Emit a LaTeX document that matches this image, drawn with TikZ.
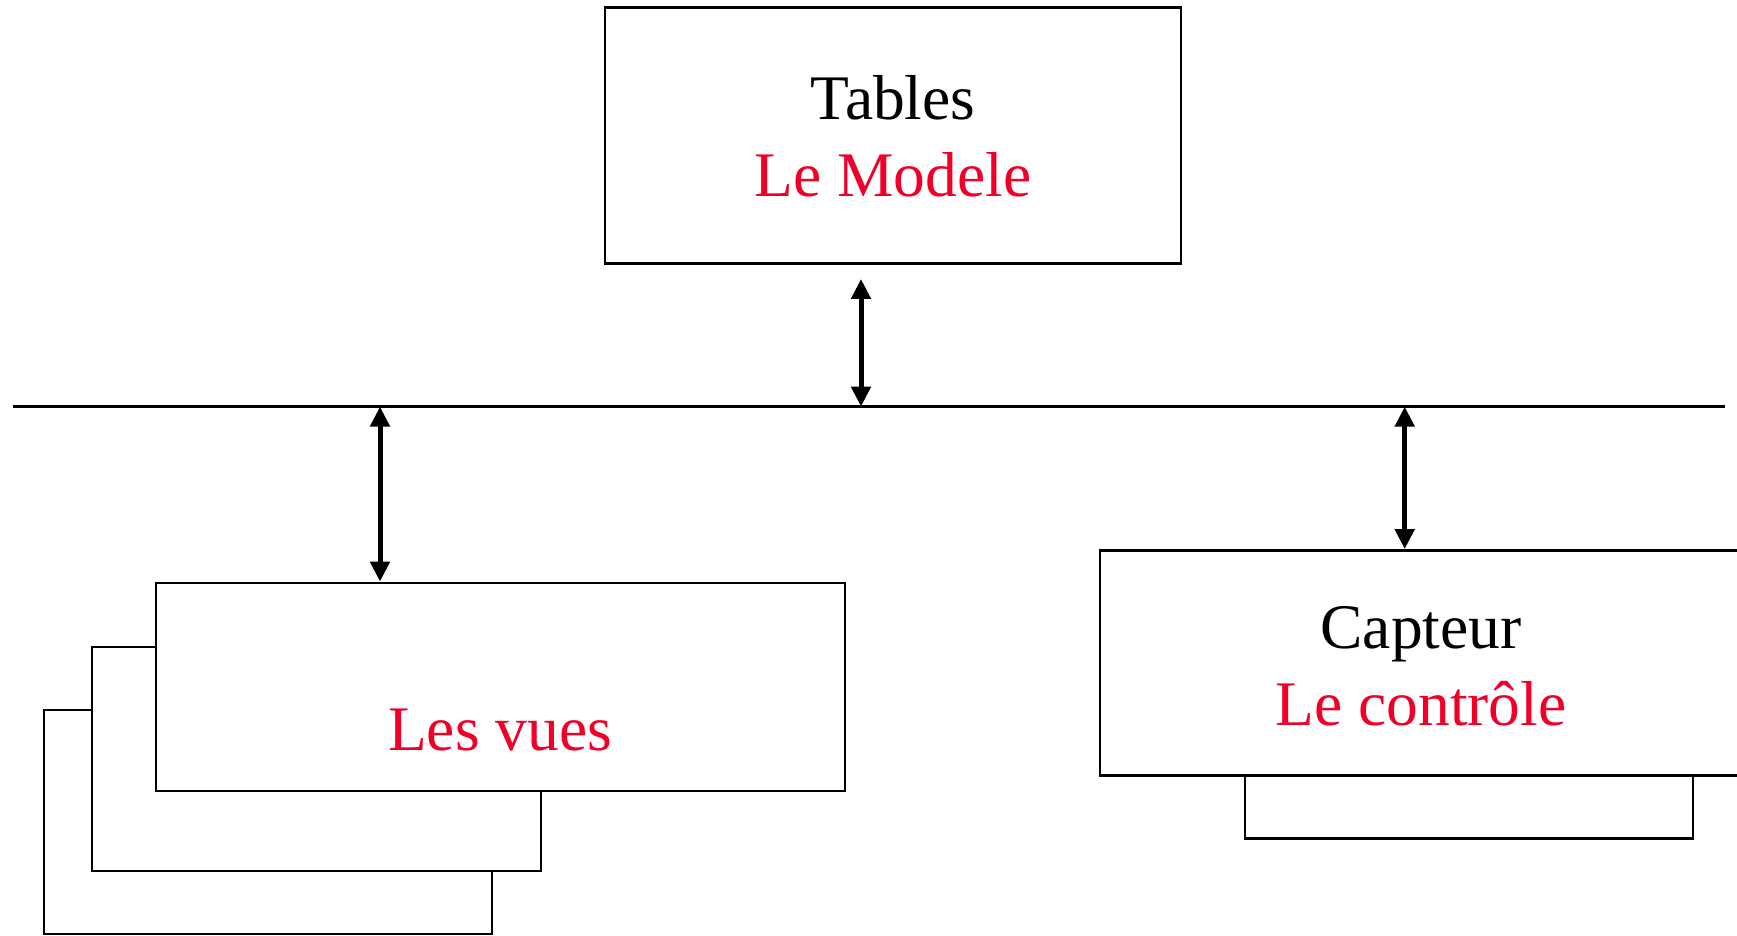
\documentclass[tikz,border=0pt]{standalone}
\usepackage{fontspec}
\setmainfont{Liberation Serif}
\usetikzlibrary{arrows.meta}
\definecolor{mvcred}{RGB}{240,0,40}
\begin{document}
\begin{tikzpicture}[x=0.5pt,y=-0.5pt,
  box/.style={draw=black, line width=1.4pt, fill=white, rectangle, inner sep=0pt},
  txt/.style={inner sep=0pt, anchor=base, font=\fontsize{31.75}{38}\selectfont},
  redtxt/.style={txt, text=mvcred},
  link/.style={line width=2.5pt,
    {Triangle[length=10pt,width=9.5pt]}-{Triangle[length=10pt,width=9.5pt]}},
  bus/.style={line width=1.4pt}]
\clip (0,0) rectangle (1737,936);

% Model box
\node[box, minimum width=288pt, minimum height=128pt] (model) at (893,135.7) {};
\node[txt] (modelA) at (893,120) {Tables};
\node[redtxt] (modelB) at (893,197) {Le Modele};

% Common bus
\coordinate (busL) at (13,406.6);
\coordinate (busR) at (1725,406.6);
\draw[bus] (busL) -- (busR);

% Stack of views
\node[box, minimum width=224pt, minimum height=112pt] (view3) at (268,822) {};
\node[box, minimum width=224.5pt, minimum height=112pt] (view2) at (316.5,759) {};
\node[box, minimum width=344.5pt, minimum height=104pt] (view1) at (500.5,687) {};
\node[redtxt] (viewT) at (500,750) {Les vues};

% Controller with its shadow box
\node[box, minimum width=224pt, minimum height=69.3pt] (ctrl2) at (1469,769.3) {};
\node[box, minimum width=330pt, minimum height=112.5pt] (ctrl1) at (1430,663) {};
\node[txt] (ctrlA) at (1421,648) {Capteur};
\node[redtxt] (ctrlB) at (1421,725.6) {Le contrôle};

% Links to the bus
\coordinate (busM) at (861,406.6);
\coordinate (modelEnd) at (861,279);
\coordinate (busV) at (380,406.6);
\coordinate (busC) at (1404.7,406.6);
\draw[link] (modelEnd) -- (busM);
\draw[link] (busV) -- (busV |- view1.north);
\draw[link] (busC) -- (busC |- ctrl1.north);
\end{tikzpicture}
\end{document}
